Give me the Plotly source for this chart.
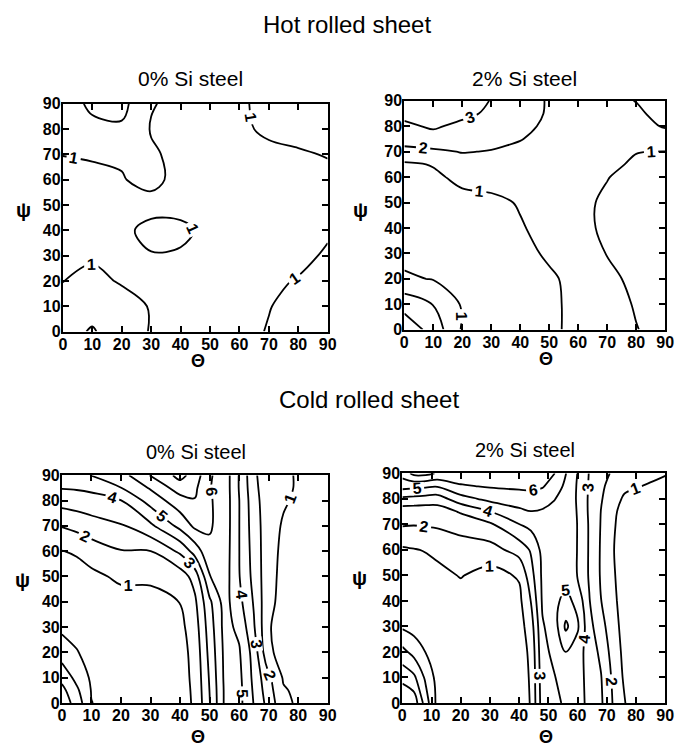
import plotly.graph_objects as go

# ---------------- data ----------------
TICKS = [0, 10, 20, 30, 40, 50, 60, 70, 80, 90]
LEVEL_START, LEVEL_END, LEVEL_STEP = 1, 8, 1

# Hot rolled, 0% Si  (rows = psi, columns = theta)
THETA_HOT_0SI = [0, 10, 20, 30, 40, 50, 60, 70, 80, 90]
PSI_HOT_0SI = [0, 10, 20, 30, 40, 50, 60, 70, 80, 90]
Z_HOT_0SI = [
    [1.6, 2.1, 1.4, 0.95, 0.7, 0.6, 0.75, 1.05, 1.4, 1.7],
    [1.5, 1.6, 1.3, 0.95, 0.7, 0.6, 0.7, 0.97, 1.25, 1.55],
    [0.97, 1.2, 0.93, 0.75, 0.65, 0.6, 0.65, 0.85, 1.05, 1.3],
    [0.8, 0.9, 0.85, 0.95, 0.9, 0.7, 0.6, 0.65, 0.8, 1.1],
    [0.75, 0.75, 0.8, 1.25, 1.2, 0.75, 0.6, 0.6, 0.7, 0.9],
    [0.7, 0.7, 0.8, 0.7, 0.7, 0.6, 0.55, 0.55, 0.6, 0.7],
    [0.7, 0.75, 0.95, 1.25, 0.7, 0.6, 0.55, 0.6, 0.7, 0.75],
    [1.02, 1.1, 1.1, 1.1, 0.8, 0.6, 0.65, 0.8, 0.9, 1.05],
    [1.3, 1.75, 1.85, 0.95, 0.75, 0.65, 0.85, 1.15, 1.3, 1.35],
    [1.5, 2.2, 2.3, 1.05, 0.8, 0.7, 0.9, 1.2, 1.3, 1.3],
]

# Hot rolled, 2% Si
THETA_HOT_2SI = [0, 10, 20, 30, 40, 50, 60, 70, 80, 90]
PSI_HOT_2SI = [0, 10, 20, 30, 40, 50, 60, 65, 70, 75, 80, 85, 90]
Z_HOT_2SI = [
    [3.7, 2.6, 0.9, 0.7, 0.7, 0.85, 1.2, 1.3, 1.02, 0.8],
    [2.6, 1.97, 0.9, 0.65, 0.7, 0.85, 1.2, 1.25, 0.95, 0.75],
    [1.15, 0.95, 0.6, 0.6, 0.7, 0.9, 1.2, 1.15, 0.85, 0.7],
    [0.7, 0.65, 0.6, 0.65, 0.8, 1.1, 1.25, 0.98, 0.8, 0.7],
    [0.65, 0.6, 0.6, 0.7, 0.95, 1.2, 1.15, 0.9, 0.75, 0.7],
    [0.65, 0.65, 0.75, 0.85, 1.05, 1.25, 1.15, 0.9, 0.75, 0.7],
    [0.75, 0.85, 1.2, 1.25, 1.3, 1.35, 1.2, 1.02, 0.8, 0.75],
    [0.85, 1.05, 1.5, 1.5, 1.45, 1.4, 1.3, 1.15, 0.9, 0.85],
    [1.7, 1.8, 2.05, 1.95, 1.7, 1.5, 1.35, 1.3, 1.02, 0.98],
    [2.4, 2.7, 2.5, 2.3, 2.05, 1.6, 1.45, 1.4, 1.5, 1.7],
    [2.85, 3.1, 2.8, 2.6, 2.2, 1.85, 1.55, 1.55, 1.8, 2.05],
    [3.2, 3.4, 3.2, 2.85, 2.4, 1.9, 1.65, 1.7, 1.85, 2.3],
    [3.5, 3.6, 3.6, 2.95, 2.5, 1.9, 1.7, 1.8, 2.02, 2.4],
]

# Cold rolled, 0% Si
THETA_COLD_0SI = [0, 5, 10, 20, 30, 40, 45, 50, 55, 60, 65, 70, 75, 80, 90]
PSI_COLD_0SI = [0, 5, 10, 20, 30, 40, 50, 60, 70, 80, 85, 90]
Z_COLD_0SI = [
    [3.6, 2.6, 1.02, 0.6, 0.55, 0.7, 1.1, 2.95, 5.1, 5.3, 3.95, 2.6, 1.25, 0.85, 0.8],
    [3.3, 2.2, 0.95, 0.6, 0.55, 0.65, 1.15, 3.02, 5.1, 5.3, 3.85, 2.4, 1.1, 0.8, 0.75],
    [2.7, 1.7, 0.85, 0.6, 0.55, 0.65, 1.2, 3.1, 5.15, 5.25, 3.75, 2.2, 0.9, 0.75, 0.7],
    [1.5, 1.05, 0.7, 0.55, 0.55, 0.65, 1.3, 3.3, 5.2, 5.1, 3.6, 1.1, 0.8, 0.7, 0.65],
    [0.8, 0.7, 0.6, 0.55, 0.55, 0.75, 1.5, 3.5, 5.3, 4.8, 3.1, 1.05, 0.75, 0.7, 0.65],
    [0.6, 0.6, 0.6, 0.6, 0.65, 1.02, 1.8, 3.8, 5.4, 4.3, 2.9, 1.2, 0.75, 0.7, 0.65],
    [0.7, 0.65, 0.75, 1.2, 1.2, 1.45, 2.4, 4.95, 5.5, 4.05, 2.7, 1.3, 0.75, 0.7, 0.65],
    [0.98, 1.1, 1.5, 1.95, 1.98, 3.2, 4.4, 5.8, 5.55, 4.02, 2.6, 1.35, 0.8, 0.7, 0.65],
    [2.05, 2.3, 2.55, 2.9, 3.8, 5.3, 6.2, 6.1, 5.6, 4.02, 2.5, 1.4, 0.9, 0.75, 0.7],
    [3.4, 3.5, 3.65, 3.98, 5.4, 6.6, 6.95, 6.1, 5.6, 4.02, 2.4, 1.35, 1.1, 0.85, 0.75],
    [4.05, 4.1, 4.2, 4.98, 6.1, 7.5, 7.2, 6.05, 5.6, 3.95, 2.3, 1.3, 1.2, 0.9, 0.8],
    [4.5, 4.8, 5.02, 5.6, 7.05, 8.3, 7.6, 6.1, 5.6, 3.95, 2.2, 1.3, 1.1, 0.95, 0.8],
]

# Cold rolled, 2% Si  (rows = theta, columns = psi; drawn with transpose)
THETA_COLD_2SI = [0, 4, 8, 12, 20, 30, 40, 44, 48, 52, 56, 60, 64, 68, 72, 76, 80, 90]
PSI_COLD_2SI = [0, 10, 20, 30, 40, 50, 60, 70, 75, 80, 85, 90]
Z_COLD_2SI_BY_THETA = [
    [4.95, 3.7, 2.3, 0.85, 0.6, 0.6, 0.85, 2.1, 2.4, 3.8, 5.4, 6.4],
    [4.6, 3.2, 1.65, 0.6, 0.6, 0.6, 0.95, 2.05, 2.4, 3.7, 5.3, 7.3],
    [2.5, 1.8, 0.97, 0.65, 0.6, 0.6, 1.05, 2.1, 2.4, 3.6, 5.2, 7.3],
    [0.7, 0.65, 0.6, 0.55, 0.55, 0.75, 1.2, 2.15, 2.5, 3.5, 5.1, 6.9],
    [0.6, 0.55, 0.5, 0.5, 0.6, 1.05, 1.5, 2.4, 3.1, 4.6, 5.9, 6.6],
    [0.55, 0.5, 0.5, 0.5, 0.55, 0.65, 1.6, 2.85, 3.98, 5.3, 6.1, 6.5],
    [0.55, 0.55, 0.55, 0.6, 0.75, 1.1, 2.4, 3.98, 4.8, 5.5, 6.2, 6.5],
    [1.05, 1.1, 1.2, 1.5, 2.02, 2.6, 3.1, 4.3, 4.98, 5.6, 6.2, 6.3],
    [3.5, 3.6, 3.75, 3.9, 4.15, 4.2, 4.3, 4.6, 4.9, 5.4, 6.1, 6.3],
    [3.7, 3.95, 4.2, 4.5, 4.75, 4.6, 4.5, 4.55, 4.7, 5.05, 5.5, 6.05],
    [4.2, 4.4, 5.02, 6.2, 5.3, 4.65, 4.55, 4.45, 4.5, 4.6, 4.8, 5.02],
    [4.3, 4.35, 4.5, 5.15, 4.7, 3.95, 3.97, 3.98, 3.95, 3.9, 3.9, 3.97],
    [3.8, 3.7, 3.5, 3.3, 3.05, 2.9, 2.9, 2.9, 2.85, 2.85, 2.9, 2.95],
    [3.15, 3.05, 2.8, 2.4, 2.02, 1.9, 1.9, 1.95, 1.98, 2.1, 2.2, 2.3],
    [1.98, 1.85, 1.6, 1.35, 1.2, 1.1, 1.05, 1.1, 1.15, 1.3, 1.6, 1.9],
    [1.02, 0.85, 0.75, 0.7, 0.65, 0.65, 0.65, 0.7, 0.75, 0.9, 1.15, 1.5],
    [0.8, 0.7, 0.65, 0.6, 0.6, 0.6, 0.6, 0.6, 0.65, 0.75, 1.05, 1.4],
    [0.75, 0.65, 0.6, 0.55, 0.55, 0.55, 0.55, 0.55, 0.6, 0.65, 0.8, 1.05],
]

SECTION_TITLES = ["Hot rolled sheet", "Cold rolled sheet"]
PANEL_TITLES = ["0% Si steel", "2% Si steel", "0% Si steel", "2% Si steel"]
X_LABEL = "Θ"
Y_LABEL = "ψ"

# ---------------- layout helpers ----------------
W, H = 687, 756
FONT = "Liberation Sans"


def px(x):
    return x / W


def py(y):
    return 1 - y / H


# plot boxes in pixels: (left, right, top, bottom)
BOXES = [
    (60, 330, 98, 331),
    (408, 674, 95, 329),
    (59, 330, 478, 711),
    (406, 674, 476, 711),
]

panels = [
    (THETA_HOT_0SI, PSI_HOT_0SI, Z_HOT_0SI, False),
    (THETA_HOT_2SI, PSI_HOT_2SI, Z_HOT_2SI, False),
    (THETA_COLD_0SI, PSI_COLD_0SI, Z_COLD_0SI, False),
    (THETA_COLD_2SI, PSI_COLD_2SI, Z_COLD_2SI_BY_THETA, True),
]

fig = go.Figure()
for i, (tx, ty, tz, tr) in enumerate(panels):
    suffix = "" if i == 0 else str(i + 1)
    fig.add_trace(
        go.Contour(
            x=tx, y=ty, z=tz, transpose=tr,
            xaxis="x" + suffix, yaxis="y" + suffix,
            contours=dict(
                coloring="none", start=LEVEL_START, end=LEVEL_END, size=LEVEL_STEP,
                showlabels=True,
                labelfont=dict(family=FONT, size=16, color="black", weight="bold"),
            ),
            line=dict(color="black", width=1.8, smoothing=1),
            showscale=False, hoverinfo="skip",
        )
    )

axis_common = dict(
    range=[0, 90], tickvals=TICKS, ticktext=[str(t) for t in TICKS],
    ticks="inside", ticklen=6, tickwidth=1.5, tickcolor="black",
    showline=True, linecolor="black", linewidth=2, mirror="allticks",
    showgrid=False, zeroline=False, ticklabelstandoff=-3,
    tickfont=dict(family=FONT, size=16, color="black", weight="bold"),
)

layout = dict(
    width=W, height=H, autosize=False,
    margin=dict(l=0, r=0, t=0, b=0),
    paper_bgcolor="white", plot_bgcolor="white",
    showlegend=False,
)
for i, (l, r, t, b) in enumerate(BOXES):
    suffix = "" if i == 0 else str(i + 1)
    layout["xaxis" + suffix] = dict(axis_common, domain=[px(l), px(r)],
                                    anchor="y" + suffix)
    layout["yaxis" + suffix] = dict(axis_common, domain=[py(b), py(t)],
                                    anchor="x" + suffix)
fig.update_layout(**layout)

annotations = []


def add_text(text, x, y, size, bold=False):
    annotations.append(dict(
        text=text, x=px(x), y=py(y), xref="paper", yref="paper",
        xanchor="center", yanchor="middle", showarrow=False,
        font=dict(family=FONT, size=size, color="black",
                  weight="bold" if bold else "normal"),
    ))


add_text(SECTION_TITLES[0], 350, 17, 24)
add_text(SECTION_TITLES[1], 372, 400, 24)
add_text(PANEL_TITLES[0], 190, 72, 21)
add_text(PANEL_TITLES[1], 531, 72, 21)
add_text(PANEL_TITLES[2], 196, 454, 20)
add_text(PANEL_TITLES[3], 531, 452, 20)

for (x, y) in [(198, 361), (552, 359), (198, 746), (552, 746)]:
    add_text(X_LABEL, x, y, 18, bold=True)
for (x, y) in [(20, 207), (363, 207), (19, 585), (362, 583)]:
    add_text(Y_LABEL, x, y, 20, bold=True)

fig.update_layout(annotations=annotations)
fig.write_html("out.html")
